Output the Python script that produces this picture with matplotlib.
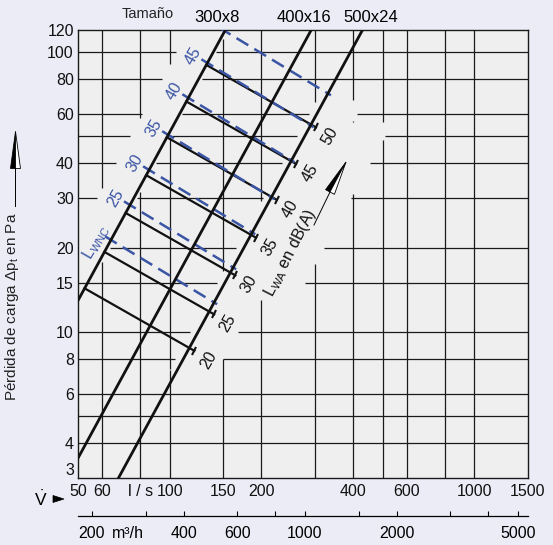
import numpy as np
import matplotlib.pyplot as plt
from matplotlib.patches import Polygon
from matplotlib.markers import MarkerStyle
from matplotlib.transforms import Affine2D, blended_transform_factory

plt.rcParams['font.family'] = ['Liberation Sans', 'DejaVu Sans']
plt.rcParams['mathtext.fontset'] = 'custom'
plt.rcParams['mathtext.rm'] = 'Liberation Sans'
plt.rcParams['mathtext.it'] = 'Liberation Sans'
plt.rcParams['mathtext.bf'] = 'Liberation Sans:bold'

tamanos = ['300x8', '400x16', '500x24']
caudal_100pa = [139, 266, 392]  # l/s a 100 Pa (curvas dp ~ V^2)

lwa_niveles = ['20', '25', '30', '35', '40', '45', '50']
lwa_dp_inicio = [14.3, 19.3, 26.6, 36.3, 49.6, 66.6, 90.0]  # Pa sobre la curva 300x8
lwa_pendiente = -0.62

lwnc_etiquetas = ['L$_{WNC}$', '25', '30', '35', '40', '45', '']
lwnc_dp_inicio = [21.3, 28.4, 37.9, 50.6, 68.6, 91.5, 119.0]
lwnc_pendiente = -0.66

x_rejilla = [60, 80, 100, 150, 200, 300, 400, 500, 600, 800, 1000]
y_rejilla = [4, 5, 6, 8, 10, 15, 20, 30, 40, 50, 60, 80, 100]
x_ticks = [50, 60, 80, 100, 150, 200, 400, 600, 1000, 1500]
x_ticklabels = ['50', '60', 'l / s', '100', '150', '200', '400', '600', '1000', '1500']
y_ticks = [3, 4, 6, 8, 10, 15, 20, 30, 40, 60, 80, 100, 120]
m3h_ticks = [200, 300, 400, 600, 800, 1000, 1500, 2000, 3000, 4000, 5000]
m3h_labels = ['200', '', '400', '600', '', '1000', '', '2000', '', '', '5000']

# Estilo
W, H = 553, 545
fondo = '#ececf6'
fondo_ax = '#efefef'
azul = '#3b55a5'
negro = '#111111'
gris_rej = '#1a1a1a'

fig = plt.figure(figsize=(W / 100, H / 100), dpi=100, facecolor=fondo)
ax = fig.add_axes([78 / W, 1 - 478 / H, 450 / W, 448 / H])
ax.set_facecolor(fondo_ax)
ax.set_xscale('log')
ax.set_yscale('log')
ax.set_xlim(50, 1500)
ax.set_ylim(3, 120)

ppx = 450 / np.log10(1500 / 50)  # pixeles por década
ppy = 448 / np.log10(120 / 3)


def px(x, y):
    # pixel de la imagen -> fracción de figura
    return (x / W, 1 - y / H)


def v_curva(i, p):
    return caudal_100pa[i] * np.sqrt(np.asarray(p) / 100.0)


def interseccion(i, Ls, p0, s):
    lv = np.log10(caudal_100pa[i])
    return (2 - 2 * lv - np.log10(p0) + s * Ls) / (s - 2)


def dp_y(y):
    return 3 * 10 ** ((478 - y) / ppy)


# Rejilla, interrumpida donde van los rótulos
# (curva, dp arriba, dp abajo, desplazamiento izq/der en px)
bandas = [(0, 130, dp_y(267), -37, 3),
          (2, dp_y(100), dp_y(370), -8, 40),
          (2, dp_y(122), dp_y(300), -8, 80)]


def restar(seg, huecos):
    partes = [seg]
    for a, b in huecos:
        nuevas = []
        for c, d in partes:
            if b <= c or a >= d:
                nuevas.append((c, d))
                continue
            if a > c:
                nuevas.append((c, a))
            if b < d:
                nuevas.append((b, d))
        partes = nuevas
    return partes


for xv in x_rejilla:
    huecos = []
    for i, pa, pb, o1, o2 in bandas:
        lv = np.log10(caudal_100pa[i])
        lo = 2 + 2 * (np.log10(xv) - o2 / ppx - lv)
        hi = 2 + 2 * (np.log10(xv) - o1 / ppx - lv)
        lo, hi = max(lo, np.log10(pb)), min(hi, np.log10(pa))
        if lo < hi:
            huecos.append((lo, hi))
    for a, b in restar((np.log10(3), np.log10(120)), huecos):
        ax.plot([xv, xv], [10 ** a, 10 ** b], color=gris_rej, lw=0.9, zorder=1,
                solid_capstyle='butt')

for yv in y_rejilla:
    huecos = []
    for i, pa, pb, o1, o2 in bandas:
        if pb <= yv <= pa:
            lc = np.log10(v_curva(i, yv))
            huecos.append((lc + o1 / ppx, lc + o2 / ppx))
    for a, b in restar((np.log10(50), np.log10(1500)), huecos):
        ax.plot([10 ** a, 10 ** b], [yv, yv], color=gris_rej, lw=0.9, zorder=1,
                solid_capstyle='butt')

# Curvas de tamaño
p = np.geomspace(2.5, 130, 100)
for i in range(3):
    ax.plot(v_curva(i, p), p, color=negro, lw=2.0, zorder=4, solid_capstyle='butt')

tick_fin = MarkerStyle('_', transform=Affine2D().rotate_deg(61))

# Líneas LWA
for nivel, p0 in zip(lwa_niveles, lwa_dp_inicio):
    Ls = np.log10(v_curva(0, p0))
    Le = interseccion(2, Ls, p0, lwa_pendiente) + 5 / ppx
    L = np.linspace(Ls, Le, 30)
    ax.plot(10 ** L, p0 * 10 ** (lwa_pendiente * (L - Ls)), color=negro, lw=1.6, zorder=3)
    pe = p0 * 10 ** (lwa_pendiente * (Le - Ls))
    ax.plot([10 ** Le], [pe], marker=tick_fin, ms=6, mew=1.5, color=negro, zorder=3)
    ax.annotate(nivel, (10 ** Le, pe), xytext=(14 * 0.72, -9 * 0.72), textcoords='offset points',
                ha='center', va='center', rotation=60, fontsize=11.5, color=negro,
                annotation_clip=False)

# Líneas LWNC (discontinuas)
for etiqueta, p0 in zip(lwnc_etiquetas, lwnc_dp_inicio):
    Ls = np.log10(v_curva(0, p0))
    L0 = Ls - 6 / ppx
    Le = interseccion(2, Ls, p0, lwnc_pendiente) + 3 / ppx
    L = np.linspace(L0, Le, 30)
    ax.plot(10 ** L, p0 * 10 ** (lwnc_pendiente * (L - Ls)), color=azul, lw=1.8,
            dashes=(5.5, 2.8), zorder=3.5)
    if etiqueta:
        off = (-15, -2) if etiqueta.startswith('L') else (-14, 7)
        ax.annotate(etiqueta, (10 ** Ls, p0), xytext=(off[0] * 0.72, off[1] * 0.72),
                    textcoords='offset points', ha='center', va='center', rotation=60,
                    fontsize=11.5, color=azul, annotation_clip=False)

# Rótulos de tamaño
dx_tam = [-8, -7, 8]
for i, nombre in enumerate(tamanos):
    ax.annotate(nombre, (v_curva(i, 120), 120), xytext=(dx_tam[i] * 0.72, 12 * 0.72),
                textcoords='offset points', ha='center', va='center', fontsize=12,
                annotation_clip=False)
fig.text(*px(148, 14), 'Tamaño', ha='center', va='center', fontsize=10.5, color='#222222')

# Ejes
ax.set_xticks(x_ticks, x_ticklabels)
ax.set_yticks(y_ticks, [str(v) for v in y_ticks])
ax.minorticks_off()
ax.tick_params(length=0, labelsize=11.5, pad=4, colors='#111111')
ax.tick_params(axis='y', pad=3)
ax.get_yticklabels()[0].set_va('bottom')
for s in ax.spines.values():
    s.set_linewidth(1.0)
    s.set_color('#1a1a1a')

sec = ax.secondary_xaxis(-0.085, functions=(lambda v: v * 3.6, lambda m: m / 3.6))
sec.set_xticks(m3h_ticks, m3h_labels)
sec.tick_params(which='major', direction='in', length=3.5, width=0.8, labelsize=11.5, pad=7)
sec.tick_params(which='minor', length=0)
sec.xaxis.set_minor_formatter(plt.NullFormatter())
sec.spines['bottom'].set_linewidth(0.9)
sec.spines['top'].set_linewidth(0.9)
trans = blended_transform_factory(ax.transData, ax.transAxes)
ax.text(64.7, (478 - 533) / 448, 'm³/h', transform=trans, ha='left', va='center', fontsize=11.5)

# V y flecha
fig.text(*px(41, 499), r'$\dot{\mathrm{V}}$', ha='center', va='center', fontsize=12.5)
fig.add_artist(Polygon([px(53, 495.5), px(64, 499), px(53, 502.5)], closed=True,
                       transform=fig.transFigure, fc='k', ec='k', lw=0.5))

# Etiqueta del eje y con flecha
fig.text(*px(12, 212), r'Pérdida de carga $\Delta$p$_\mathrm{t}$ en Pa', rotation=90,
         ha='center', va='top', fontsize=11, color='#222222')


def flecha(base, punta, semi, linea_ini):
    bx, by = base
    tx, ty = punta
    d = np.array([tx - bx, ty - by])
    d = d / np.hypot(*d)
    n = np.array([-d[1], d[0]])  # hacia la izquierda
    izq = (bx + semi * n[0], by + semi * n[1])
    der = (bx - semi * n[0], by - semi * n[1])
    fig.add_artist(Polygon([px(*punta), px(*base), px(*der)], closed=True,
                           transform=fig.transFigure, fc='k', ec='k', lw=0.6))
    fig.add_artist(Polygon([px(*punta), px(*base), px(*izq)], closed=True,
                           transform=fig.transFigure, fc='white', ec='k', lw=0.6))
    lx, ly = linea_ini
    fig.add_artist(plt.Line2D([lx / W, bx / W], [1 - ly / H, 1 - by / H],
                              transform=fig.transFigure, color='k', lw=0.7))


flecha((15, 168), (15, 131), 5, (15, 206))

# Etiqueta LWA con flecha
fig.text(*px(290, 253), r'L$_\mathrm{WA}$ en dB(A)', rotation=63, ha='center', va='center',
         fontsize=11.5, color='#111111')
flecha((330, 192), (346, 162), 5, (314, 225))

fig.savefig('out.png', dpi=100, facecolor=fondo)
